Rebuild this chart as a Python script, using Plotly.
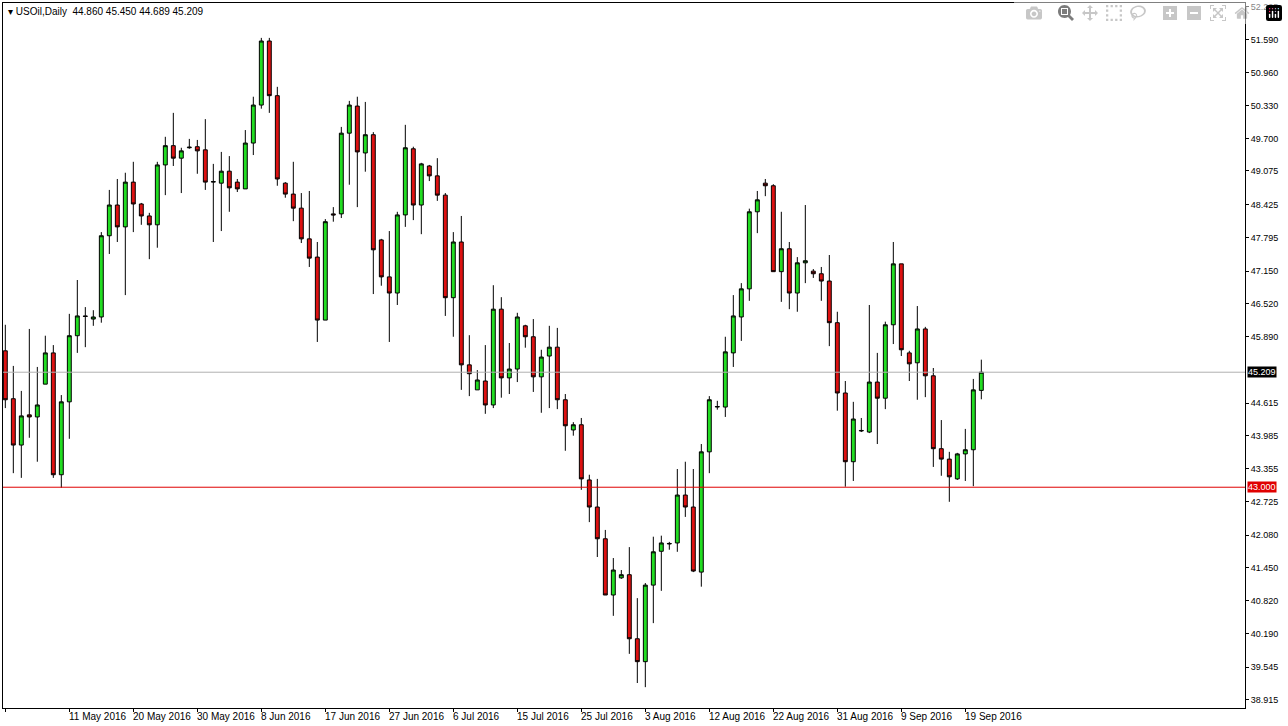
import plotly.graph_objects as go

opens = [45.62,44.70,43.81,44.39,44.35,44.98,45.58,43.24,44.64,45.91,46.29,46.23,46.27,47.83,48.42,48.00,48.86,48.44,48.21,48.04,
 49.19,49.56,49.32,49.52,49.54,49.48,48.86,48.84,49.07,48.86,48.73,49.61,50.34,51.57,50.52,48.84,48.63,48.36,47.77,47.42,
 46.21,48.25,48.25,49.80,50.32,49.42,49.77,47.75,47.04,46.73,48.23,49.50,48.42,49.17,48.98,48.61,46.64,47.71,45.35,44.87,
 45.04,44.58,46.42,45.10,45.27,46.10,45.89,45.12,45.52,45.69,44.68,44.10,44.20,43.14,42.62,42.01,40.93,41.26,41.32,40.09,
 39.65,41.12,41.77,41.91,41.93,42.85,42.62,41.37,43.68,44.54,44.54,45.58,46.27,46.81,48.29,48.84,48.79,47.14,47.58,46.73,
 47.31,47.15,47.10,46.96,46.16,44.81,43.49,44.08,44.06,45.02,44.71,46.12,47.29,45.58,45.39,46.04,45.14,43.74,43.54,43.16,
 43.64,43.72,44.860]
highs = [46.12,45.33,44.85,46.04,45.31,45.91,45.73,44.77,46.33,46.98,46.46,46.40,47.90,48.71,48.92,49.04,49.25,48.46,48.27,49.25,
 49.73,50.19,49.52,49.69,49.67,50.07,49.21,49.44,49.36,48.92,49.86,50.50,51.63,51.63,50.69,48.86,49.25,48.65,48.69,47.71,
 48.15,48.38,49.92,50.42,50.50,50.40,49.82,47.77,47.92,48.29,49.96,49.54,49.23,49.19,49.32,48.65,47.90,48.21,45.92,45.25,
 45.73,46.88,46.65,45.77,46.35,46.12,46.23,45.64,46.10,46.06,44.79,44.25,44.33,43.24,43.16,42.18,41.64,41.41,41.85,40.87,
 41.16,42.05,42.07,41.95,43.35,43.49,43.35,43.83,44.75,44.66,45.89,46.69,46.92,48.35,48.69,48.92,48.82,48.29,47.71,47.42,
 48.42,47.19,47.23,47.46,46.37,45.04,44.64,44.33,46.50,45.58,46.18,47.71,47.29,45.62,46.48,46.08,45.29,44.29,43.68,43.66,
 44.12,45.08,45.450]
lows = [44.52,43.27,43.18,43.95,43.49,44.98,43.18,42.99,43.93,45.58,45.69,46.10,46.16,47.48,47.71,46.69,47.90,48.04,47.38,47.60,
 48.61,49.17,48.65,49.50,49.02,48.71,47.71,47.92,48.29,48.67,48.73,49.38,50.27,50.19,48.79,48.56,48.11,47.69,47.23,45.79,
 46.21,48.10,48.17,48.81,48.38,49.06,46.71,46.87,45.79,46.50,48.00,48.13,47.86,48.88,48.50,46.29,45.89,44.87,44.75,44.87,
 44.41,44.52,44.72,44.79,45.02,45.68,44.83,44.43,44.52,44.50,43.70,43.99,42.95,42.33,41.66,40.93,40.53,41.24,39.80,39.24,
 39.16,40.39,41.01,41.80,41.76,42.43,41.37,41.09,43.27,44.49,44.35,45.31,45.81,46.58,47.88,48.59,47.14,46.56,46.42,46.37,
 46.92,47.02,46.58,45.71,44.47,43.01,43.12,44.06,44.04,43.83,44.50,45.75,45.52,45.04,44.68,44.73,43.39,43.22,42.72,43.14,
 43.12,43.02,44.689]
closes = [44.68,43.81,44.37,44.35,44.58,45.58,43.24,44.64,45.91,46.29,46.28,46.27,47.83,48.42,48.00,48.86,48.44,48.21,48.04,49.19,
 49.56,49.32,49.46,49.53,49.46,48.86,48.87,49.07,48.75,48.73,49.61,50.34,51.57,50.52,48.92,48.63,48.36,47.77,47.40,46.21,
 48.10,48.23,49.80,50.34,49.44,49.77,47.56,47.04,46.73,48.23,49.52,48.42,49.21,48.98,48.61,46.64,47.71,45.35,45.18,45.06,
 44.58,46.42,45.10,45.27,46.27,45.89,45.12,45.50,45.69,44.68,44.18,44.20,43.16,42.62,42.01,40.93,41.41,41.32,40.09,39.65,
 41.12,41.76,41.93,41.92,42.85,42.62,41.39,43.68,44.68,44.55,45.60,46.29,46.81,48.29,48.52,48.79,47.14,47.58,46.73,47.31,
 47.35,47.10,46.96,46.16,44.81,43.49,44.31,44.09,45.02,44.71,46.12,47.29,45.64,45.37,46.04,45.14,43.74,43.54,43.20,43.64,
 43.72,44.87,45.209]

date_labels = ["2 May 2016","11 May 2016","20 May 2016","30 May 2016","8 Jun 2016","17 Jun 2016","27 Jun 2016",
 "6 Jul 2016","15 Jul 2016","25 Jul 2016","3 Aug 2016","12 Aug 2016","22 Aug 2016","31 Aug 2016","9 Sep 2016","19 Sep 2016"]
price_ticks = [52.225,51.590,50.960,50.330,49.700,49.075,48.425,47.795,47.150,46.520,45.890,44.615,
 43.985,43.355,42.725,42.080,41.450,40.820,40.190,39.545,38.915]
support_level = 43.000
last_price = 45.209

FONT = "Liberation Sans"
idx = list(range(len(opens)))
fig = go.Figure(go.Candlestick(
    x=idx, open=opens, high=highs, low=lows, close=closes,
    increasing=dict(line=dict(color="black", width=1), fillcolor="#22dd22"),
    decreasing=dict(line=dict(color="black", width=1), fillcolor="#dd1111"),
    whiskerwidth=0, hoverinfo="skip"))

fig.add_hline(y=last_price, line=dict(color="#b0b0b0", width=1))
fig.add_hline(y=support_level, line=dict(color="#e00000", width=1))

tick_idx = [i*8 for i in range(len(date_labels))]
for i, t in zip(tick_idx, date_labels):
    fig.add_annotation(x=i-0.35, y=0, xref="x", yref="paper", yanchor="top", xanchor="left",
                       text=t, showarrow=False, yshift=-1, font=dict(size=10, color="black", family=FONT))

for val, bg in [(last_price, "black"), (support_level, "#e00000")]:
    fig.add_annotation(x=1, y=val, xref="paper", yref="y", xanchor="left", text=f"{val:.3f}",
                       showarrow=False, bgcolor=bg, font=dict(size=9, color="white", family=FONT),
                       xshift=2, borderpad=0)
fig.add_annotation(x=0, y=1, xref="paper", yref="paper", xanchor="left", yanchor="top",
                   text=f"▾ USOil,Daily  {opens[-1]:.3f} {highs[-1]:.3f} {lows[-1]:.3f} {closes[-1]:.3f}",
                   showarrow=False, xshift=3, yshift=-1, font=dict(size=10, color="black", family=FONT))

fig.update_layout(
    width=1288, height=726, margin=dict(l=3, r=43, t=3, b=18, autoexpand=False),
    paper_bgcolor="white", plot_bgcolor="white", showlegend=False,
    font=dict(family=FONT, size=9, color="black"),
    xaxis=dict(range=[-0.29, 154.96], rangeslider=dict(visible=False), showgrid=False, zeroline=False,
               tickvals=tick_idx, showticklabels=False, ticks="outside", ticklen=3, tickcolor="black",
               showline=True, linecolor="black", mirror=True, automargin=False),
    yaxis=dict(range=[38.76, 52.30], side="right", showgrid=False, zeroline=False,
               tickvals=price_ticks, ticktext=[f"{v:.3f}" for v in price_ticks],
               ticks="outside", ticklen=3, tickcolor="black", automargin=False,
               showline=True, linecolor="black", mirror=True),
)
fig.write_html("out.html", post_script="document.body.style.margin='0';document.body.style.overflow='hidden';")
